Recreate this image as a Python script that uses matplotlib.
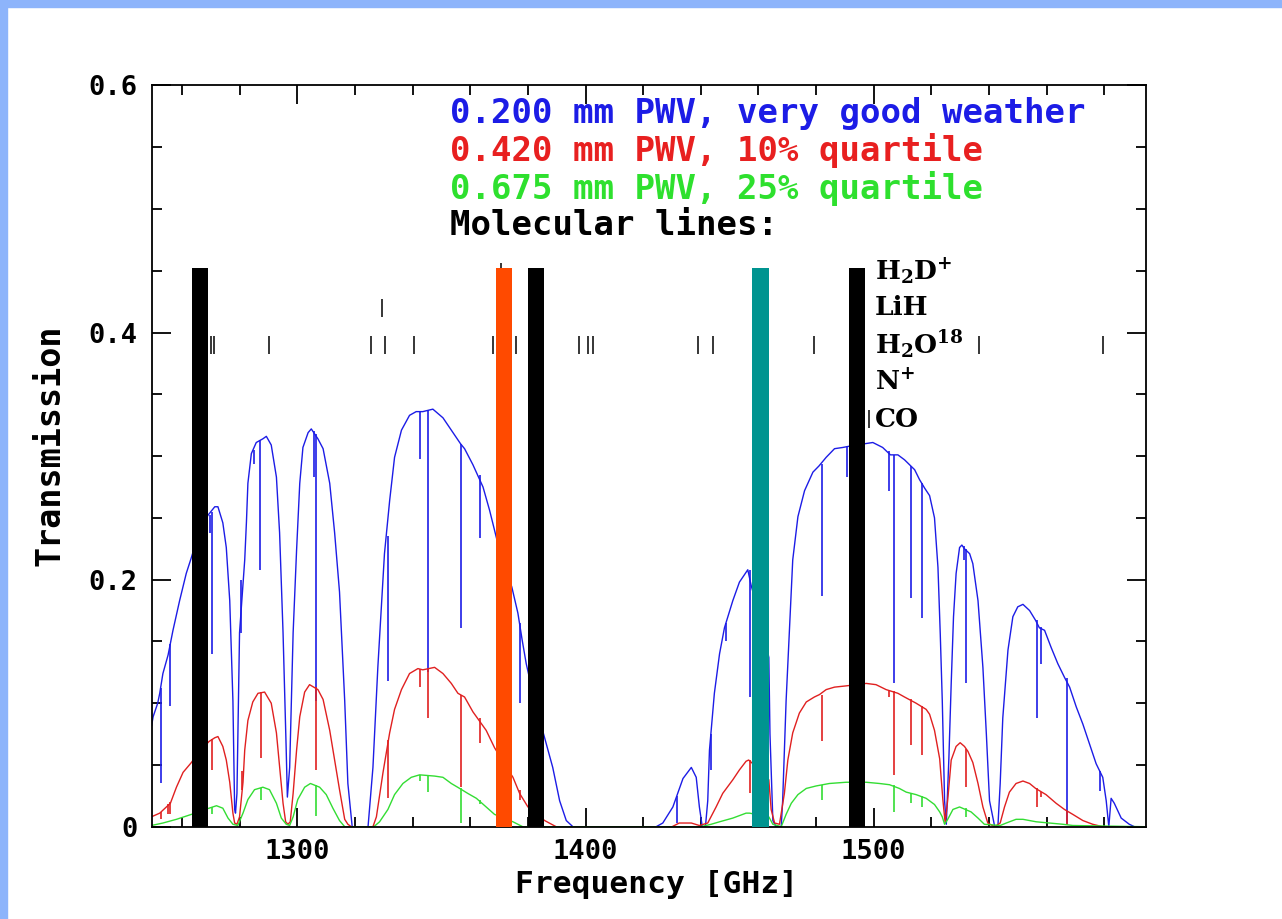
import matplotlib
matplotlib.use("Agg")

import matplotlib.pyplot as plt
from matplotlib.ticker import MultipleLocator, FixedLocator, FixedFormatter

plt.rcParams["font.family"] = ["DejaVu Sans Mono", "DejaVu Sans"]
plt.rcParams["mathtext.fontset"] = "dejavuserif"

# transmission envelopes, (frequency GHz, transmission)
blue_pts = [
    (1249.4, 0.082), (1249.9, 0.089), (1251.5, 0.100), (1252.2, 0.108), (1253.3, 0.124),
    (1255.1, 0.139), (1256.8, 0.159), (1259.1, 0.183), (1261.4, 0.205), (1263.2, 0.218),
    (1265.0, 0.232), (1268.9, 0.252), (1271.3, 0.259), (1272.4, 0.259), (1274.1, 0.246),
    (1275.3, 0.226), (1276.5, 0.183), (1277.6, 0.102), (1278.2, 0.014), (1278.5, 0.011),
    (1279.0, 0.027), (1279.9, 0.157), (1281.7, 0.216), (1282.3, 0.247), (1282.8, 0.278),
    (1284.0, 0.302), (1285.7, 0.311), (1288.0, 0.314), (1289.2, 0.316), (1290.9, 0.309),
    (1292.7, 0.283), (1293.8, 0.238), (1295.0, 0.157), (1296.1, 0.062), (1296.5, 0.024),
    (1297.3, 0.048), (1298.5, 0.157), (1299.7, 0.224), (1300.8, 0.278), (1301.9, 0.307),
    (1303.7, 0.319), (1304.8, 0.322), (1307.1, 0.314), (1308.9, 0.306), (1311.2, 0.278),
    (1312.9, 0.238), (1314.6, 0.190), (1316.4, 0.102), (1317.5, 0.035), (1319.0, 0.0),
    (1324.5, 0.0), (1326.2, 0.048), (1327.9, 0.129), (1330.2, 0.221), (1332.0, 0.264),
    (1333.7, 0.299), (1336.1, 0.321), (1338.9, 0.333), (1341.2, 0.336), (1343.5, 0.336),
    (1347.0, 0.338), (1350.5, 0.331), (1354.0, 0.319), (1356.6, 0.310), (1358.0, 0.306),
    (1360.9, 0.293), (1364.4, 0.275), (1366.7, 0.256), (1368.4, 0.240), (1370.0, 0.225),
    (1374.4, 0.194), (1376.5, 0.173), (1378.0, 0.151), (1379.4, 0.132), (1382.5, 0.100),
    (1385.8, 0.072), (1388.6, 0.048), (1391.0, 0.021), (1393.3, 0.005), (1395.6, 0.0),
    (1424.5, 0.0), (1426.8, 0.003), (1430.3, 0.016), (1433.8, 0.039), (1436.7, 0.048),
    (1438.4, 0.040), (1439.5, 0.016), (1440.5, 0.0), (1441.6, 0.0), (1442.4, 0.021),
    (1443.0, 0.062), (1444.7, 0.108), (1446.5, 0.140), (1448.2, 0.161), (1451.1, 0.183),
    (1453.4, 0.198), (1455.7, 0.206), (1456.3, 0.208), (1457.5, 0.195), (1460.5, 0.170),
    (1463.6, 0.137), (1464.0, 0.075), (1465.0, 0.005), (1466.1, 0.0), (1467.9, 0.0),
    (1468.4, 0.021), (1469.6, 0.102), (1470.8, 0.161), (1471.9, 0.216), (1473.7, 0.251),
    (1476.0, 0.272), (1478.9, 0.287), (1481.0, 0.292), (1483.5, 0.299), (1486.4, 0.306),
    (1489.3, 0.307), (1491.5, 0.308), (1494.0, 0.309), (1496.8, 0.310), (1499.7, 0.311),
    (1503.1, 0.307), (1505.8, 0.301), (1508.4, 0.301), (1510.7, 0.297), (1514.2, 0.289),
    (1515.9, 0.281), (1517.7, 0.274), (1519.4, 0.268), (1521.1, 0.250), (1522.3, 0.210),
    (1523.1, 0.156), (1523.8, 0.102), (1524.6, 0.021), (1525.2, 0.002), (1526.1, 0.056),
    (1526.9, 0.116), (1527.7, 0.170), (1528.6, 0.205), (1529.8, 0.226), (1530.6, 0.228),
    (1531.5, 0.225), (1533.3, 0.221), (1534.4, 0.213), (1536.2, 0.183), (1537.9, 0.129),
    (1539.1, 0.075), (1540.2, 0.021), (1542.0, 0.0), (1543.1, 0.0), (1543.9, 0.035),
    (1544.8, 0.088), (1546.6, 0.143), (1548.3, 0.170), (1550.0, 0.178), (1551.8, 0.180),
    (1554.1, 0.175), (1556.2, 0.167), (1557.5, 0.161), (1559.3, 0.159), (1561.6, 0.145),
    (1563.9, 0.132), (1566.2, 0.121), (1568.0, 0.113), (1570.3, 0.097), (1572.6, 0.083),
    (1574.9, 0.067), (1577.2, 0.051), (1579.5, 0.040), (1580.7, 0.021), (1581.6, 0.0),
    (1582.4, 0.023), (1583.5, 0.019), (1585.9, 0.007), (1588.7, 0.002), (1590.5, 0.0),
    (1594.5, 0.0),
]

red_pts = [
    (1249.3, 0.008), (1252.2, 0.011), (1255.9, 0.019), (1258.0, 0.032), (1260.3, 0.044),
    (1263.2, 0.052), (1265.0, 0.058), (1269.3, 0.069), (1271.3, 0.072), (1272.4, 0.073),
    (1274.1, 0.065), (1275.3, 0.054), (1276.5, 0.036), (1277.6, 0.011), (1278.2, 0.003),
    (1279.0, 0.002), (1279.9, 0.008), (1281.1, 0.036), (1281.7, 0.062), (1282.8, 0.086),
    (1284.5, 0.101), (1286.3, 0.108), (1288.6, 0.109), (1290.9, 0.100), (1292.7, 0.076),
    (1293.8, 0.049), (1295.0, 0.019), (1295.9, 0.004), (1296.7, 0.002), (1297.5, 0.004),
    (1298.5, 0.027), (1299.7, 0.062), (1300.8, 0.089), (1302.5, 0.109), (1304.2, 0.115),
    (1307.1, 0.111), (1308.9, 0.103), (1311.2, 0.078), (1312.9, 0.054), (1314.6, 0.030),
    (1316.4, 0.006), (1317.5, 0.002), (1318.7, 0.0), (1326.2, 0.0), (1327.4, 0.008),
    (1329.7, 0.044), (1332.0, 0.076), (1333.7, 0.095), (1336.1, 0.111), (1338.9, 0.124),
    (1341.8, 0.128), (1343.5, 0.127), (1347.6, 0.129), (1350.5, 0.124), (1353.4, 0.116),
    (1355.7, 0.108), (1358.0, 0.105), (1360.9, 0.093), (1365.5, 0.078), (1368.4, 0.064),
    (1371.5, 0.052), (1374.8, 0.040), (1377.1, 0.027), (1380.0, 0.016), (1385.8, 0.005),
    (1389.8, 0.0), (1430.0, 0.0), (1432.5, 0.003), (1436.7, 0.003), (1439.5, 0.001),
    (1442.4, 0.003), (1445.3, 0.016), (1447.6, 0.027), (1451.1, 0.038), (1453.4, 0.046),
    (1455.7, 0.053), (1456.6, 0.054), (1460.5, 0.046), (1463.6, 0.038), (1464.4, 0.014),
    (1465.6, 0.003), (1467.3, 0.002), (1469.0, 0.027), (1470.2, 0.054), (1471.9, 0.076),
    (1474.2, 0.092), (1476.6, 0.101), (1479.4, 0.105), (1481.2, 0.107), (1483.5, 0.111),
    (1486.4, 0.113), (1490.4, 0.114), (1497.4, 0.116), (1500.8, 0.115), (1504.3, 0.111),
    (1508.4, 0.108), (1510.7, 0.105), (1514.7, 0.100), (1518.2, 0.095), (1519.4, 0.091),
    (1521.1, 0.078), (1522.9, 0.055), (1524.0, 0.022), (1524.8, 0.003), (1525.7, 0.022),
    (1526.9, 0.054), (1528.6, 0.065), (1530.0, 0.068), (1531.5, 0.065), (1532.7, 0.061),
    (1534.4, 0.052), (1536.2, 0.035), (1537.9, 0.016), (1539.6, 0.003), (1542.0, 0.0),
    (1543.9, 0.003), (1545.4, 0.016), (1547.1, 0.028), (1549.4, 0.035), (1551.8, 0.037),
    (1554.1, 0.035), (1556.2, 0.031), (1559.8, 0.026), (1563.3, 0.019), (1566.2, 0.014),
    (1569.1, 0.010), (1572.6, 0.005), (1576.0, 0.002), (1579.5, 0.0), (1594.5, 0.0),
]

green_pts = [
    (1249.3, 0.001), (1253.3, 0.003), (1258.0, 0.006), (1263.2, 0.010), (1269.3, 0.015),
    (1271.9, 0.017), (1274.1, 0.015), (1275.9, 0.007), (1277.6, 0.002), (1279.3, 0.001),
    (1281.1, 0.011), (1282.8, 0.022), (1285.1, 0.030), (1288.0, 0.032), (1290.3, 0.030),
    (1292.7, 0.019), (1294.4, 0.007), (1296.1, 0.002), (1297.3, 0.001), (1298.5, 0.008),
    (1300.1, 0.022), (1302.5, 0.032), (1304.5, 0.035), (1307.7, 0.032), (1310.0, 0.026),
    (1312.3, 0.015), (1314.6, 0.005), (1316.4, 0.0), (1326.5, 0.0), (1328.5, 0.004),
    (1331.4, 0.014), (1333.7, 0.026), (1336.6, 0.035), (1339.5, 0.040), (1342.4, 0.042),
    (1347.6, 0.041), (1350.5, 0.040), (1353.4, 0.035), (1356.3, 0.031), (1359.1, 0.027),
    (1362.1, 0.023), (1365.5, 0.016), (1368.4, 0.010), (1374.8, 0.004), (1378.2, 0.0),
    (1440.0, 0.0), (1443.6, 0.002), (1446.5, 0.004), (1451.1, 0.007), (1455.7, 0.011),
    (1456.9, 0.011), (1463.6, 0.008), (1465.0, 0.002), (1467.9, 0.0), (1469.6, 0.010),
    (1471.4, 0.019), (1473.7, 0.026), (1476.6, 0.031), (1480.0, 0.033), (1484.6, 0.035),
    (1490.4, 0.036), (1497.4, 0.036), (1502.0, 0.035), (1505.5, 0.034), (1508.9, 0.031),
    (1511.3, 0.028), (1514.7, 0.026), (1518.2, 0.023), (1521.1, 0.018), (1522.9, 0.012),
    (1523.8, 0.008), (1524.6, 0.002), (1525.7, 0.006), (1527.5, 0.014), (1529.8, 0.016),
    (1533.8, 0.012), (1536.2, 0.007), (1538.4, 0.002), (1543.9, 0.001), (1546.0, 0.003),
    (1549.4, 0.006), (1551.8, 0.006), (1556.4, 0.004), (1561.0, 0.003), (1565.6, 0.002),
    (1569.1, 0.001), (1594.5, 0.0),
]

# narrow absorption dips: (frequency, bottom, top)
blue_dips = [
    (1252.8, 0.035, 0.112), (1255.9, 0.098, 0.148), (1269.8, 0.238, 0.252),
    (1270.3, 0.140, 0.255), (1280.5, 0.157, 0.200), (1284.8, 0.294, 0.305),
    (1286.9, 0.208, 0.313), (1305.6, 0.283, 0.320), (1306.3, 0.102, 0.318),
    (1331.4, 0.118, 0.235), (1342.6, 0.298, 0.336), (1345.2, 0.125, 0.337),
    (1356.6, 0.161, 0.310), (1363.2, 0.234, 0.285), (1377.4, 0.100, 0.165),
    (1431.8, 0.003, 0.025), (1443.6, 0.046, 0.075), (1448.8, 0.150, 0.165),
    (1456.9, 0.105, 0.208), (1482.1, 0.187, 0.294), (1490.8, 0.283, 0.308),
    (1505.2, 0.272, 0.304), (1506.9, 0.116, 0.301), (1513.0, 0.185, 0.292),
    (1516.7, 0.169, 0.278), (1531.3, 0.216, 0.227), (1532.1, 0.116, 0.225),
    (1556.7, 0.088, 0.167), (1558.1, 0.132, 0.162), (1567.0, 0.002, 0.120),
    (1578.4, 0.029, 0.045),
]

red_dips = [
    (1252.8, 0.006, 0.012), (1255.1, 0.010, 0.018), (1255.9, 0.010, 0.020),
    (1270.3, 0.046, 0.071), (1280.6, 0.030, 0.045), (1287.2, 0.056, 0.109),
    (1306.3, 0.046, 0.113), (1331.4, 0.023, 0.070), (1342.6, 0.113, 0.128),
    (1345.2, 0.088, 0.128), (1356.6, 0.032, 0.107), (1363.2, 0.068, 0.088),
    (1377.4, 0.022, 0.030), (1456.9, 0.027, 0.054), (1482.1, 0.069, 0.107),
    (1505.2, 0.105, 0.111), (1506.9, 0.042, 0.110), (1513.0, 0.066, 0.103),
    (1516.7, 0.058, 0.098), (1532.1, 0.032, 0.063), (1556.7, 0.016, 0.031),
    (1558.1, 0.024, 0.028), (1567.0, 0.001, 0.013),
]

green_dips = [
    (1270.3, 0.010, 0.016), (1287.2, 0.022, 0.031), (1306.3, 0.009, 0.034),
    (1342.6, 0.037, 0.042), (1345.2, 0.028, 0.042), (1356.6, 0.003, 0.031),
    (1363.2, 0.018, 0.022), (1482.1, 0.022, 0.034), (1506.9, 0.012, 0.034),
    (1513.0, 0.019, 0.027), (1516.7, 0.016, 0.025), (1532.1, 0.008, 0.015),
]

# highlighted lines (thick bars)
bar_freqs = [1266.2, 1371.6, 1382.7, 1460.7, 1494.3]
bar_colors = ["black", "#ff4a00", "black", "#009490", "black"]
bar_height = 0.452
bar_width = 5.6

# molecular line rows
mol_names = [r"H$_\mathregular{2}$D$^\mathregular{+}$", "LiH",
             r"H$_\mathregular{2}$O$^\mathregular{18}$", r"N$^\mathregular{+}$", "CO"]
mol_rows = [0.449, 0.420, 0.390, 0.360, 0.330]
mol_lines = [
    [1370.5],
    [1329.3],
    [1269.9, 1270.9, 1290.2, 1325.5, 1330.4, 1340.6, 1367.8, 1375.7, 1397.7,
     1401.0, 1402.6, 1439.0, 1444.3, 1479.3, 1536.4, 1579.6],
    [1461.1],
    [1267.0, 1382.0, 1498.3],
]

legend_texts = ["0.200 mm PWV, very good weather", "0.420 mm PWV, 10% quartile",
                "0.675 mm PWV, 25% quartile", "Molecular lines:"]
legend_colors = ["#1c1ce6", "#e82020", "#2ee02e", "black"]
legend_rows = [0.577, 0.547, 0.517, 0.487]

curve_colors = ["#1c1ce6", "#e02020", "#33dd33"]

fig = plt.figure(figsize=(12.82, 9.19), dpi=100)

# slide border
fig.patches.append(plt.Rectangle((0, 0), 0.0055, 1, transform=fig.transFigure,
                                 color="#8db4fb", zorder=0))
fig.patches.append(plt.Rectangle((0, 0.9925), 1, 0.0075, transform=fig.transFigure,
                                 color="#8db4fb", zorder=0))

ax = fig.add_axes([0.1183, 0.1004, 0.7756, 0.8066])

for pts, dips, col in zip([blue_pts, red_pts, green_pts],
                          [blue_dips, red_dips, green_dips], curve_colors):
    f, t = zip(*pts)
    ax.plot(f, t, color=col, lw=1.0, zorder=2)
    df, lo, hi = zip(*dips)
    ax.vlines(df, lo, hi, color=col, lw=1.2, zorder=2)

ax.bar(bar_freqs, bar_height, width=bar_width, color=bar_colors, zorder=3)

for row, freqs in zip(mol_rows, mol_lines):
    ax.vlines(freqs, row - 0.0075, row + 0.0075, color="black", lw=1.1, zorder=2.5)

for name, row in zip(mol_names, mol_rows):
    ax.text(1500.3, row, name, fontsize=19, fontfamily="DejaVu Serif",
            fontweight="bold", va="center", ha="left")

for txt, col, row in zip(legend_texts, legend_colors, legend_rows):
    ax.text(1352.8, row, txt, color=col, fontsize=24.5, fontweight="bold",
            va="center", ha="left")

ax.set_xlim(1249.4, 1594.5)
ax.set_ylim(0, 0.6)

ax.xaxis.set_major_locator(MultipleLocator(100))
ax.xaxis.set_minor_locator(MultipleLocator(20))
ax.yaxis.set_major_locator(FixedLocator([0, 0.2, 0.4, 0.6]))
ax.yaxis.set_major_formatter(FixedFormatter(["0", "0.2", "0.4", "0.6"]))
ax.yaxis.set_minor_locator(MultipleLocator(0.05))

ax.tick_params(which="both", direction="in", top=True, right=True, width=1.3)
ax.tick_params(which="major", length=14, labelsize=19.5)
ax.tick_params(axis="x", which="major", pad=9)
ax.tick_params(axis="y", which="major", pad=10)
ax.tick_params(which="minor", length=7)
for lab in ax.get_xticklabels() + ax.get_yticklabels():
    lab.set_fontweight("bold")
for sp in ax.spines.values():
    sp.set_linewidth(1.3)

ax.set_xlabel("Frequency [GHz]", fontsize=22.5, fontweight="bold")
ax.set_ylabel("Transmission", fontsize=24, fontweight="bold")
ax.xaxis.set_label_coords(0.508, -0.058)
ax.yaxis.set_label_coords(-0.086, 0.515)

fig.savefig("out.png", dpi=100)
